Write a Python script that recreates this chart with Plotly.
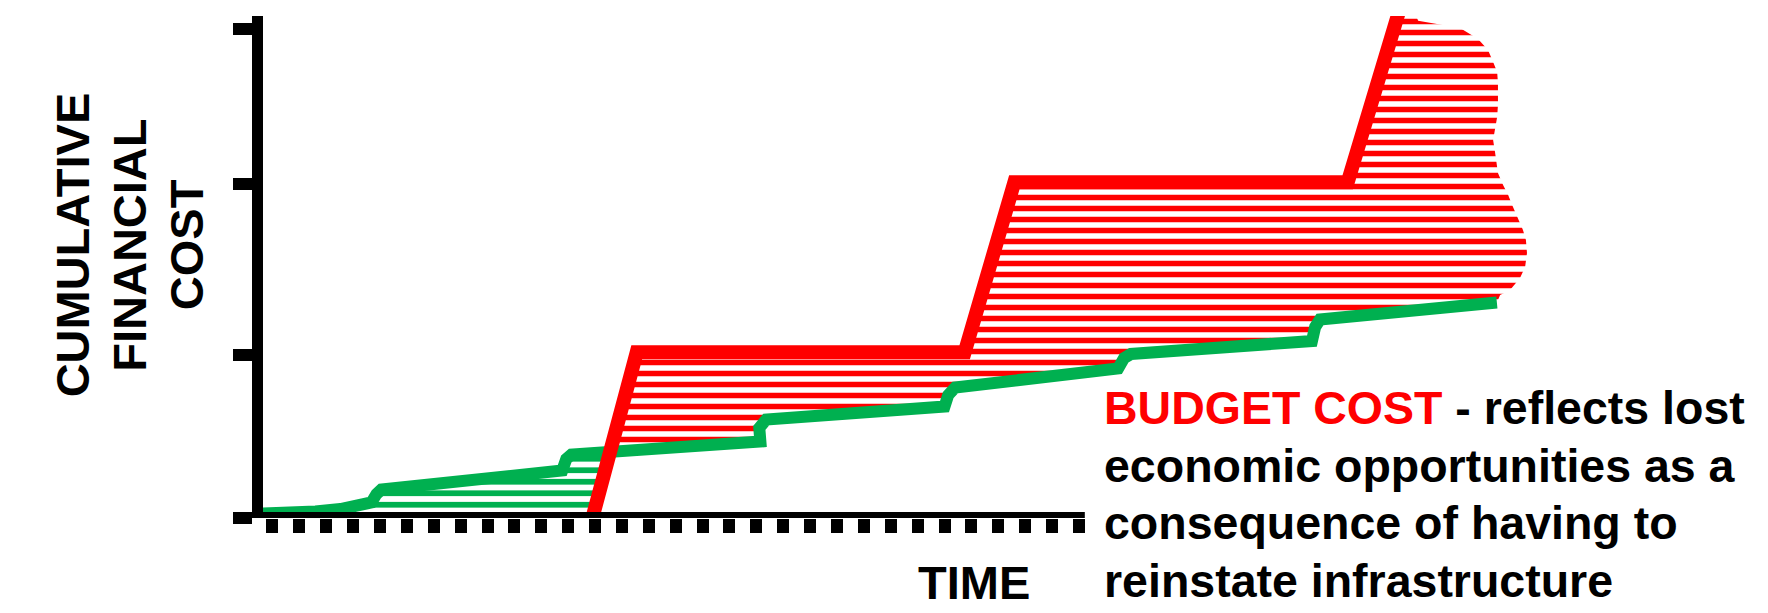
import plotly.graph_objects as go

# ---------------- data ----------------
TIME_TICKS = list(range(1, 32))            # time periods marked on the x axis
COST_TICKS = [0, 32.5, 66.5, 97.4]         # cost levels marked on the y axis

# budget cost (red) – cumulative
BUDGET_T = [12.9, 14.55, 26.75, 28.6, 41.0, 43.15]
BUDGET_V = [0.0, 33.0, 33.0, 66.9, 66.9, 105.2]

# reinstatement cost (green) – cumulative
GREEN_T = [0.65, 1.67, 2.60, 3.53, 4.27, 4.68, 4.87, 5.05, 11.78, 11.93, 12.12,
           19.15, 19.11, 19.37, 26.0, 26.14, 26.40, 32.46, 32.68, 32.94,
           39.67, 39.79, 39.97, 46.55]
GREEN_V = [0.90, 1.00, 1.29, 1.79, 2.39, 3.09, 4.78, 5.68, 9.46, 11.75, 12.65,
           15.24, 17.93, 19.62, 22.21, 24.50, 26.0, 29.78, 31.87, 32.67,
           35.26, 38.05, 39.54, 42.93]

# open right-hand edge of the budget-cost region
BLOB_T = [43.62, 45.18, 45.85, 46.22, 46.41, 46.56, 46.59, 46.59, 46.56, 46.48,
          46.41, 46.48, 46.59, 46.78, 46.97, 47.15, 47.34, 47.52, 47.63, 47.67,
          47.60, 47.41, 47.04, 46.67]
BLOB_V = [99.06, 97.61, 95.42, 93.23, 90.84, 88.84, 86.65, 82.27, 79.88, 77.69,
          75.30, 72.91, 68.73, 66.33, 64.34, 61.95, 59.76, 57.37, 55.38, 52.79,
          50.0, 47.81, 45.42, 44.42]

RED = "#FF0000"
GREEN = "#00B050"
FONT = "Liberation Sans, Arial, sans-serif"

# ---------------- geometry helpers ----------------
def seg_intersect(p1, p2, p3, p4):
    x1, y1 = p1; x2, y2 = p2; x3, y3 = p3; x4, y4 = p4
    d = (x1 - x2) * (y3 - y4) - (y1 - y2) * (x3 - x4)
    if abs(d) < 1e-12:
        return None
    t = ((x1 - x3) * (y3 - y4) - (y1 - y3) * (x3 - x4)) / d
    u = -((x1 - x2) * (y1 - y3) - (y1 - y2) * (x1 - x3)) / d
    if 0 <= t <= 1 and 0 <= u <= 1:
        return (x1 + t * (x2 - x1), y1 + t * (y2 - y1))
    return None

green = list(zip(GREEN_T, GREEN_V))
red = list(zip(BUDGET_T, BUDGET_V))
hit = None
for i in range(len(green) - 1):
    for j in range(len(red) - 1):
        p = seg_intersect(green[i], green[i + 1], red[j], red[j + 1])
        if p:
            hit = (i, j, p)
            break
    if hit:
        break
gi, rj, cross = hit

green_poly = green[:gi + 1] + [cross] + red[:rj + 1][::-1] + [(GREEN_T[0], 0.0)]
red_poly = [cross] + red[rj + 1:] + list(zip(BLOB_T, BLOB_V)) + green[gi + 1:][::-1] + [cross]

fig = go.Figure()

fig.add_trace(go.Scatter(
    x=[p[0] for p in green_poly], y=[p[1] for p in green_poly],
    mode="lines", line=dict(width=0, color=GREEN), fill="toself",
    fillcolor=GREEN,
    fillpattern=dict(shape="-", size=11.5, solidity=0.5, fgcolor=GREEN,
                     bgcolor="rgba(255,255,255,0)", fillmode="replace"),
    hoverinfo="skip", showlegend=False))

fig.add_trace(go.Scatter(
    x=[p[0] for p in red_poly], y=[p[1] for p in red_poly],
    mode="lines", line=dict(width=0, color=RED), fill="toself",
    fillcolor=RED,
    fillpattern=dict(shape="-", size=11, solidity=0.5, fgcolor=RED,
                     bgcolor="rgba(255,255,255,0)", fillmode="replace"),
    hoverinfo="skip", showlegend=False))

fig.add_trace(go.Scatter(x=GREEN_T, y=GREEN_V, mode="lines",
                         line=dict(color=GREEN, width=12),
                         hoverinfo="skip", showlegend=False))
fig.add_trace(go.Scatter(x=BUDGET_T, y=BUDGET_V, mode="lines",
                         line=dict(color=RED, width=14),
                         hoverinfo="skip", showlegend=False))

# x-axis baseline (ends at the last time tick)
fig.add_shape(type="line", xref="x", yref="y",
              x0=0.647, x1=TIME_TICKS[-1] + 0.22, y0=0, y1=0,
              line=dict(color="black", width=12), layer="above")

# ---------------- layout ----------------
L, R, T, B = 262.5, 223, 16, 95
W, H = 1768, 613
PW, PH = W - L - R, H - T - B

def px(xpix):
    return (xpix - L) / PW

def py(ypix):
    return (H - B - ypix) / PH

ann = []
for txt, xc in [("CUMULATIVE", 71.8), ("FINANCIAL", 128.2), ("COST", 185.6)]:
    ann.append(dict(text=f"<b>{txt}</b>", x=px(xc), y=py(245), xref="paper", yref="paper",
                    textangle=-90, showarrow=False, xanchor="center", yanchor="middle",
                    font=dict(family=FONT, size=47, color="black")))
ann.append(dict(text="<b>TIME</b>", x=px(974), y=py(582), xref="paper", yref="paper",
                showarrow=False, xanchor="center", yanchor="middle",
                font=dict(family=FONT, size=47, color="black")))
lines = [
    f'<b><span style="color:{RED}">BUDGET COST</span> - reflects lost</b>',
    "<b>economic opportunities as a</b>",
    "<b>consequence of having to</b>",
    "<b>reinstate infrastructure</b>",
]
for k, (txt, base) in enumerate(zip(lines, [427, 484.7, 542.4, 600])):
    ann.append(dict(text=txt, x=px(1102), y=py(base - 19), xref="paper", yref="paper",
                    showarrow=False, xanchor="left", yanchor="middle",
                    font=dict(family=FONT, size=46.5, color="black")))

fig.update_layout(
    width=W, height=H, autosize=False,
    margin=dict(l=L, r=R, t=T, b=B, pad=0),
    paper_bgcolor="white", plot_bgcolor="white",
    showlegend=False, hovermode=False,
    annotations=ann,
    xaxis=dict(range=[0.647, 48.34], showline=False, showgrid=False, zeroline=False,
               tickmode="array", tickvals=TIME_TICKS, ticks="outside", ticklen=14,
               tickwidth=11.5, tickcolor="black", showticklabels=False, fixedrange=True),
    yaxis=dict(range=[0, 100], showline=True, linewidth=11, linecolor="black",
               showgrid=False, zeroline=False, tickmode="array", tickvals=COST_TICKS,
               ticks="outside", ticklen=19, tickwidth=12, tickcolor="black",
               showticklabels=False, fixedrange=True),
)

fig.write_html("out.html", config={"displayModeBar": False},
               post_script="document.body.style.margin='0';document.body.style.padding='0';"
                           "document.body.style.overflow='hidden';")
